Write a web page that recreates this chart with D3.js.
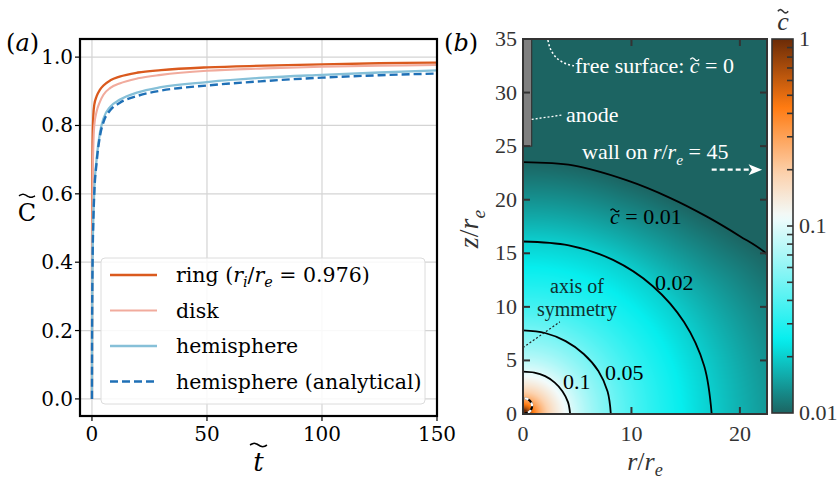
<!DOCTYPE html>
<html><head><meta charset="utf-8">
<script src="https://cdn.jsdelivr.net/npm/d3@7"></script>
<style>body{margin:0;background:#fff}svg{display:block}</style>
</head><body>
<script>
// ---------- DATA ----------
// Panel (a): C~ vs t~
const tVals        = [0, 0.05, 0.15, 0.3, 0.6, 1, 2, 3.5, 5, 8, 12, 20, 30, 50, 75, 100, 125, 150];
const ringVals     = [0, 0.45, 0.65, 0.76, 0.83, 0.86, 0.885, 0.905, 0.917, 0.932, 0.943, 0.955, 0.962, 0.970, 0.975, 0.979, 0.982, 0.984];
const diskVals     = [0, 0.30, 0.50, 0.63, 0.74, 0.80, 0.84, 0.87, 0.89, 0.91, 0.923, 0.938, 0.948, 0.960, 0.967, 0.972, 0.975, 0.977];
const hemiVals     = [0, 0.20, 0.33, 0.43, 0.53, 0.61, 0.70, 0.78, 0.82, 0.855, 0.875, 0.897, 0.912, 0.927, 0.940, 0.948, 0.955, 0.961];
const hemiAnaVals  = [0, 0.19, 0.32, 0.42, 0.52, 0.60, 0.69, 0.77, 0.81, 0.845, 0.866, 0.887, 0.902, 0.917, 0.930, 0.940, 0.947, 0.952];
const xTicksA = [0, 50, 100, 150];
const yTicksA = [0, 0.2, 0.4, 0.6, 0.8, 1.0];

// Panel (b): contour lines (r/re, z/re) and levels
const contourLevels = [0.1, 0.05, 0.02, 0.01];
const contourLabels = ["0.1", "0.05", "0.02", "0.01"];
const c010 = [[0, 3.95], [1.04, 3.86], [2.04, 3.53], [2.93, 2.93], [3.65, 2.11], [4.15, 1.11], [4.35, 0]];
const c005 = [[0, 7.8], [2.03, 7.56], [3.93, 6.8], [5.6, 5.6], [6.95, 4.01], [7.8, 2.09], [8.1, 0]];
const c002 = [[0, 16.1], [4.22, 15.74], [8.3, 14.38], [11.95, 11.95], [14.85, 8.58], [16.71, 4.48], [17.4, 0]];
const c001 = [[0, 23.5], [4.6, 23.2], [9.6, 21.8], [13.5, 20.2], [17, 18.4], [20, 16.6], [22.4, 15.0], [25.5, 11.5], [28, 6], [29, 0]];
const xTicksB = [0, 10, 20];
const yTicksB = [0, 5, 10, 15, 20, 25, 30, 35];
const cbarLabels = [0.01, 0.1, 1];
const cbarColorStops = [0.01, 0.0246, 0.112, 0.19, 0.43, 1];
const cbarColors = ["#1c6462", "#06eeee", "#f2fbfb", "#fcd2ae", "#ff7b12", "#6b2b07"];

// ---------- HELPERS ----------
const svg = d3.select("body").append("svg").attr("width", 839).attr("height", 481);

function tildePath(cx, cy, w, h) {
  const pts = d3.range(0, 1.0001, 1 / 20).map(u => [cx - w / 2 + u * w, cy - h / 2 * Math.sin(2 * Math.PI * u)]);
  return d3.line().curve(d3.curveBasis)(pts);
}
function rich(parent, x, y, parts, o) {
  const size = o.size, t = parent.append("text").attr("x", x).attr("y", y)
    .attr("font-family", o.family).attr("font-size", size).attr("fill", o.fill || "#000")
    .attr("text-anchor", o.anchor || "start");
  if (o.transform) t.attr("transform", o.transform);
  let shift = 0;
  parts.forEach(p => {
    const ts = t.append("tspan").text(p.t);
    if (p.it) ts.attr("font-style", "italic");
    const target = p.sub ? size * 0.25 : 0;
    if (target !== shift) { ts.attr("dy", target - shift); shift = target; }
    if (p.sub) ts.attr("font-size", size * 0.7);
  });
  let idx = 0;
  parts.forEach(p => {
    if (p.tilde) {
      const e = t.node().getExtentOfChar(idx);
      const cx = e.x + e.width / 2 + (p.tdx || 0);
      parent.append("path").attr("d", tildePath(cx, y - (p.tk || 0.62) * size, (p.tw || e.width * 0.9), size * 0.13))
        .attr("fill", "none").attr("stroke", o.fill || "#000").attr("stroke-width", size * 0.06);
    }
    idx += p.t.length;
  });
  return t;
}

// ---------- PANEL A ----------
const serifA = "DejaVu Serif";
const xA = d3.scaleLinear().domain([-5.2, 150]).range([80, 437]);
const yA = d3.scaleLinear().domain([-0.05, 1.053]).range([416, 39]);
const gA = svg.append("g");
gA.selectAll(".gx").data(xTicksA).join("line").attr("x1", d => xA(d)).attr("x2", d => xA(d))
  .attr("y1", 39).attr("y2", 416).attr("stroke", "#d4d4d4").attr("stroke-width", 1.2);
gA.selectAll(".gy").data(yTicksA).join("line").attr("y1", d => yA(d)).attr("y2", d => yA(d))
  .attr("x1", 80).attr("x2", 437).attr("stroke", "#d4d4d4").attr("stroke-width", 1.2);

gA.append("clipPath").attr("id", "clipA").append("rect").attr("x", 80).attr("y", 39).attr("width", 357).attr("height", 377);
const series = [
  { vals: ringVals, color: "#da5a1e", w: 2.3, dash: null, label: [{ t: "ring (" }, { t: "r", it: true }, { t: "i", it: true, sub: true }, { t: "/" }, { t: "r", it: true }, { t: "e", it: true, sub: true }, { t: " = 0.976)" }] },
  { vals: diskVals, color: "#f1ab9d", w: 2.1, dash: null, label: [{ t: "disk" }] },
  { vals: hemiVals, color: "#86c0d8", w: 2.3, dash: null, label: [{ t: "hemisphere" }] },
  { vals: hemiAnaVals, color: "#1f70b6", w: 2.4, dash: "8,4", label: [{ t: "hemisphere (analytical)" }] }
];
const lineA = d3.line().x(d => xA(d[0])).y(d => yA(d[1])).curve(d3.curveMonotoneX);
const linesG = gA.append("g").attr("clip-path", "url(#clipA)");
series.forEach(s => {
  linesG.append("path").attr("d", lineA(tVals.map((t, i) => [t, s.vals[i]])))
    .attr("fill", "none").attr("stroke", s.color).attr("stroke-width", s.w)
    .attr("stroke-dasharray", s.dash);
});
// legend
const leg = gA.append("g");
leg.append("rect").attr("x", 101).attr("y", 258).attr("width", 324).attr("height", 146).attr("rx", 4)
  .attr("fill", "#fff").attr("fill-opacity", 0.85).attr("stroke", "#dcdcdc").attr("stroke-width", 1);
series.forEach((s, i) => {
  const y = 275 + i * 35.5;
  leg.append("line").attr("x1", 110).attr("x2", 157).attr("y1", y).attr("y2", y)
    .attr("stroke", s.color).attr("stroke-width", s.w).attr("stroke-dasharray", s.dash);
  rich(leg, 176, y + 7, s.label, { size: 20.5, family: serifA });
});
// frame & ticks
gA.append("rect").attr("x", 80).attr("y", 39).attr("width", 357).attr("height", 377)
  .attr("fill", "none").attr("stroke", "#000").attr("stroke-width", 2.2);
gA.selectAll(".tx").data(xTicksA).join("line").attr("x1", d => xA(d)).attr("x2", d => xA(d))
  .attr("y1", 416).attr("y2", 421).attr("stroke", "#000").attr("stroke-width", 1.2);
gA.selectAll(".ty").data(yTicksA).join("line").attr("y1", d => yA(d)).attr("y2", d => yA(d))
  .attr("x1", 75).attr("x2", 80).attr("stroke", "#000").attr("stroke-width", 1.2);
gA.selectAll(".lx").data(xTicksA).join("text").attr("x", d => xA(d)).attr("y", 441)
  .attr("text-anchor", "middle").attr("font-family", serifA).attr("font-size", 20).text(d => d);
gA.selectAll(".ly").data(yTicksA).join("text").attr("x", 73).attr("y", d => yA(d) + 7)
  .attr("text-anchor", "end").attr("font-family", serifA).attr("font-size", 20).text(d => d.toFixed(1));
rich(gA, 258.5, 471, [{ t: "t", it: true, tilde: true, tk: 1.0, tw: 17 }], { size: 26, family: serifA, anchor: "middle" });
rich(gA, 27, 221, [{ t: "C", tilde: true, tk: 1.05, tw: 16 }], { size: 24, family: serifA, anchor: "middle" });
rich(gA, 6, 51, [{ t: "(" }, { t: "a", it: true }, { t: ")" }], { size: 24, family: serifA });
rich(gA, 444, 51, [{ t: "(" }, { t: "b", it: true }, { t: ")" }], { size: 24, family: serifA });

// ---------- PANEL B ----------
const serifB = "Liberation Serif";
const x0 = 523, x1 = 767, y0 = 39, y1 = 414;
const xB = d3.scaleLinear().domain([0, 22.5]).range([x0, x1]);
const yB = d3.scaleLinear().domain([0, 35]).range([y1, y0]);
const color = d3.scaleLog().domain(cbarColorStops).range(cbarColors).interpolate(d3.interpolateRgb).clamp(true);

const contours = [c010, c005, c002, c001];
const radial = contours.map(pts => {
  const pol = pts.map(([r, z]) => [Math.atan2(z, r), Math.hypot(r, z)]).sort((a, b) => a[0] - b[0]);
  return d3.scaleLinear().domain(pol.map(p => p[0])).range(pol.map(p => p[1])).clamp(true);
});
function field(r, z) {
  const rho = Math.max(Math.hypot(r, z), 1e-6), th = Math.atan2(z, r);
  const R = radial.map(s => s(th));
  if (rho <= R[0]) return Math.min(1, contourLevels[0] * R[0] / rho);
  for (let k = 0; k < R.length - 1; k++) {
    if (rho <= R[k + 1]) {
      const f = Math.log(rho / R[k]) / Math.log(R[k + 1] / R[k]);
      return Math.exp(Math.log(contourLevels[k]) + f * (Math.log(contourLevels[k + 1]) - Math.log(contourLevels[k])));
    }
  }
  return contourLevels[3] * Math.pow(R[3] / rho, 3);
}
const W = x1 - x0, H = y1 - y0;
const cv = document.createElement("canvas"); cv.width = W; cv.height = H;
const ctx = cv.getContext("2d"), img = ctx.createImageData(W, H);
for (let j = 0; j < H; j++) for (let i = 0; i < W; i++) {
  const c = d3.rgb(color(field(xB.invert(x0 + i + 0.5), yB.invert(y0 + j + 0.5))));
  const k = 4 * (j * W + i);
  img.data[k] = c.r; img.data[k + 1] = c.g; img.data[k + 2] = c.b; img.data[k + 3] = 255;
}
ctx.putImageData(img, 0, 0);
const gB = svg.append("g");
gB.append("image").attr("x", x0).attr("y", y0).attr("width", W).attr("height", H)
  .attr("preserveAspectRatio", "none").attr("href", cv.toDataURL());
gB.append("clipPath").attr("id", "clipB").append("rect").attr("x", x0).attr("y", y0).attr("width", W).attr("height", H);
const cl = gB.append("g").attr("clip-path", "url(#clipB)");
const lineB = d3.line().x(d => xB(d[0])).y(d => yB(d[1])).curve(d3.curveCatmullRom);
contours.forEach(pts => cl.append("path").attr("d", lineB(pts)).attr("fill", "none").attr("stroke", "#000").attr("stroke-width", 1.8));

// anode
cl.append("rect").attr("x", xB(0)).attr("y", yB(35)).attr("width", xB(0.8) - xB(0)).attr("height", yB(25) - yB(35))
  .attr("fill", "#7f7f7f").attr("stroke", "#333").attr("stroke-width", 1.2);
// electrode marker at origin
const arc = d3.path(); arc.arc(xB(0.15), yB(0.75), 7.5, -Math.PI / 2, Math.PI / 2);
cl.append("path").attr("d", arc.toString()).attr("fill", "none").attr("stroke", "#000").attr("stroke-width", 2.2);
cl.append("path").attr("d", arc.toString()).attr("fill", "none").attr("stroke", "#fff").attr("stroke-width", 2.2).attr("stroke-dasharray", "4,4");

// annotations
const wht = "#fff";
cl.append("path").attr("d", `M${xB(2.3)},${yB(35) + 1} C${xB(2.5)},${yB(33.6)} ${xB(3.3)},${yB(32.7)} ${xB(4.7)},${yB(32.5)}`)
  .attr("fill", "none").attr("stroke", wht).attr("stroke-width", 1.5).attr("stroke-dasharray", "2,2.2");
cl.append("line").attr("x1", xB(0.8)).attr("y1", yB(27.5)).attr("x2", xB(3.6)).attr("y2", yB(27.9))
  .attr("stroke", wht).attr("stroke-width", 1.3).attr("stroke-dasharray", "2,2");
cl.append("line").attr("x1", xB(0)).attr("y1", yB(6.2)).attr("x2", xB(3.4)).attr("y2", yB(8.6))
  .attr("stroke", "#222").attr("stroke-width", 1.2).attr("stroke-dasharray", "2,2");
cl.append("line").attr("x1", xB(17.4)).attr("y1", yB(22.8)).attr("x2", xB(20.9)).attr("y2", yB(22.8))
  .attr("stroke", wht).attr("stroke-width", 2.2).attr("stroke-dasharray", "5,3");
cl.append("path").attr("d", `M${xB(22.05)},${yB(22.8)} L${xB(20.8)},${yB(22.8) - 5.5} L${xB(21.1)},${yB(22.8)} L${xB(20.8)},${yB(22.8) + 5.5}Z`)
  .attr("fill", wht);

rich(gB, 575, 73, [{ t: "free surface: " }, { t: "c", it: true, tilde: true }, { t: " = 0" }], { size: 22, family: serifB, fill: wht });
rich(gB, 566, 122, [{ t: "anode" }], { size: 22, family: serifB, fill: wht });
rich(gB, 582, 159, [{ t: "wall on  " }, { t: "r", it: true }, { t: "/" }, { t: "r", it: true }, { t: "e", it: true, sub: true }, { t: " = 45" }], { size: 22, family: serifB, fill: wht });
rich(gB, 610, 224, [{ t: "c", it: true, tilde: true }, { t: " = 0.01" }], { size: 22, family: serifB });
rich(gB, 655, 290, [{ t: contourLabels[2] }], { size: 22, family: serifB });
rich(gB, 605, 380, [{ t: contourLabels[1] }], { size: 22, family: serifB });
rich(gB, 563, 389, [{ t: contourLabels[0] }], { size: 22, family: serifB });
rich(gB, 577, 293, [{ t: "axis of" }], { size: 20, family: serifB, anchor: "middle", fill: "#10302f" });
rich(gB, 577, 316, [{ t: "symmetry" }], { size: 20, family: serifB, anchor: "middle", fill: "#10302f" });

// frame & inward ticks
const tc = "#333";
gB.append("rect").attr("x", x0).attr("y", y0).attr("width", W).attr("height", H)
  .attr("fill", "none").attr("stroke", tc).attr("stroke-width", 2);
const innerY = yTicksB.filter(d => d > 0 && d < 35), innerX = xTicksB.filter(d => d > 0);
gB.selectAll(".tyl").data(innerY).join("line").attr("x1", x0).attr("x2", x0 + 7).attr("y1", d => yB(d)).attr("y2", d => yB(d)).attr("stroke", tc).attr("stroke-width", 2);
gB.selectAll(".tyr").data(innerY).join("line").attr("x1", x1 - 7).attr("x2", x1).attr("y1", d => yB(d)).attr("y2", d => yB(d)).attr("stroke", tc).attr("stroke-width", 2);
gB.selectAll(".txb").data(innerX).join("line").attr("x1", d => xB(d)).attr("x2", d => xB(d)).attr("y1", y1 - 7).attr("y2", y1).attr("stroke", tc).attr("stroke-width", 2);
gB.selectAll(".txt").data(innerX).join("line").attr("x1", d => xB(d)).attr("x2", d => xB(d)).attr("y1", y0).attr("y2", y0 + 7).attr("stroke", tc).attr("stroke-width", 2);
gB.selectAll(".lyb").data(yTicksB).join("text").attr("x", 517).attr("y", d => yB(d) + 7).attr("text-anchor", "end")
  .attr("font-family", serifB).attr("font-size", 22).attr("fill", tc).text(d => d);
gB.selectAll(".lxb").data(xTicksB).join("text").attr("x", d => xB(d)).attr("y", 441).attr("text-anchor", "middle")
  .attr("font-family", serifB).attr("font-size", 22).attr("fill", tc).text(d => d);
rich(gB, 645, 469.5, [{ t: "r", it: true }, { t: "/" }, { t: "r", it: true }, { t: "e", it: true, sub: true }], { size: 26, family: serifB, anchor: "middle", fill: tc });
rich(gB, 0, 0, [{ t: "z", it: true }, { t: "/" }, { t: "r", it: true }, { t: "e", it: true, sub: true }], { size: 28, family: serifB, anchor: "middle", fill: tc, transform: "translate(478,229) rotate(-90)" });

// colorbar
const cbx = 772, cbw = 21;
const cy = d3.scaleLog().domain([0.01, 1]).range([413, 39]);
const grad = svg.append("defs").append("linearGradient").attr("id", "cbg").attr("x1", 0).attr("y1", 1).attr("x2", 0).attr("y2", 0);
d3.range(0, 61).forEach(i => grad.append("stop").attr("offset", i / 60).attr("stop-color", color(Math.pow(10, -2 + 2 * i / 60))));
gB.append("rect").attr("x", cbx).attr("y", 39).attr("width", cbw).attr("height", 374).attr("fill", "url(#cbg)")
  .attr("stroke", tc).attr("stroke-width", 1.6);
const cbTicks = cy.ticks().filter(d => d > 0.01 && d < 1);
gB.selectAll(".cbt").data(cbTicks).join("line").attr("x1", cbx + cbw - 6).attr("x2", cbx + cbw).attr("y1", d => cy(d)).attr("y2", d => cy(d))
  .attr("stroke", tc).attr("stroke-width", 1.6);
gB.selectAll(".cbl").data(cbarLabels).join("text").attr("x", 799).attr("y", d => cy(d) + 7)
  .attr("font-family", serifB).attr("font-size", 22).attr("fill", tc).text(d => d);
rich(gB, 783, 30, [{ t: "c", it: true, tilde: true, tk: 0.72 }], { size: 26, family: serifB, anchor: "middle", fill: tc });
</script>
</body></html>
